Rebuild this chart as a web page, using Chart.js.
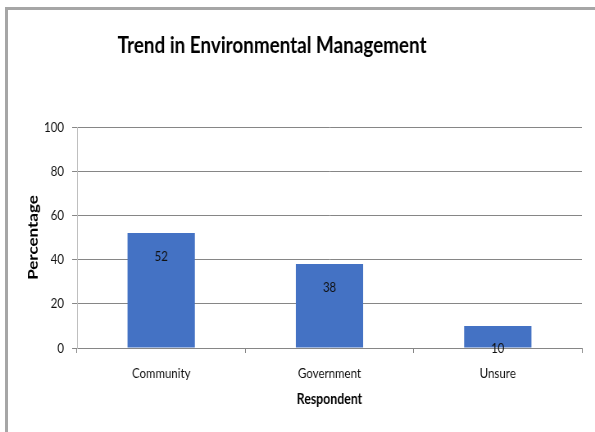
<!DOCTYPE html>
<html>
<head>
<meta charset="utf-8">
<script src="https://cdn.jsdelivr.net/npm/chart.js@4.4.1/dist/chart.umd.min.js"></script>
<style>
  html, body { margin: 0; padding: 0; background: #fff; }
  #wrap { position: relative; width: 595px; height: 432px; overflow: hidden; }
  #frame {
    position: absolute; left: 5px; top: 7px; width: 620px; height: 460px;
    border-left: 3px solid #a6a6a6; border-top: 3px solid #a6a6a6;
    box-sizing: border-box;
  }
  /* the chart is drawn wider and squeezed back to 595px, giving tall narrow lettering */
  #chart { position: absolute; left: 0; top: 0; transform-origin: 0 0; transform: scaleX(0.8196); }
</style>
</head>
<body>
<div id="wrap">
  <div id="frame"></div>
  <canvas id="chart" width="726" height="432"></canvas>
</div>
<script>
// Respondent categories and percentages
const respondents = ['Community', 'Government', 'Unsure'];
const percentages = [52, 38, 10];
const yTicks = [0, 20, 40, 60, 80, 100];

const chartTitle = 'Trend in Environmental Management';
const fontFamily = 'Lato, "Open Sans", sans-serif';

// Chart heading, centred over the left part of the frame
const heading = {
    id: 'heading',
    afterDraw(chart) {
        const ctx = chart.ctx;
        ctx.save();
        ctx.font = 'bold 23px ' + fontFamily;
        ctx.fillStyle = '#000';
        ctx.textAlign = 'center';
        ctx.textBaseline = 'middle';
        ctx.fillText(chartTitle, 332, 46);
        ctx.restore();
    }
};

// Value labels drawn just inside the top of each bar
const barLabels = {
    id: 'barLabels',
    afterDatasetsDraw(chart) {
        const ctx = chart.ctx;
        const meta = chart.getDatasetMeta(0);
        ctx.save();
        ctx.font = '14px ' + fontFamily;
        ctx.fillStyle = '#111';
        ctx.textAlign = 'center';
        ctx.textBaseline = 'middle';
        meta.data.forEach((bar, i) => {
            ctx.fillText(String(percentages[i]), bar.x, bar.y + 23);
        });
        ctx.restore();
    }
};

new Chart(document.getElementById('chart'), {
    type: 'bar',
    data: {
        labels: respondents,
        datasets: [{
            data: percentages,
            backgroundColor: '#4472c4',
            borderWidth: 0,
            barPercentage: 0.4,
            categoryPercentage: 1
        }]
    },
    options: {
        responsive: false,
        animation: false,
        layout: { padding: { left: 0, right: 16, top: 127, bottom: 0 } },
        plugins: {
            legend: { display: false },
            tooltip: { enabled: false },
            title: { display: false }
        },
        scales: {
            x: {
                grid: { drawOnChartArea: false, drawTicks: true, tickLength: 5, color: '#868686', offset: true },
                border: { color: '#868686' },
                ticks: { color: '#111', padding: 12, font: { family: fontFamily, size: 14 } },
                title: {
                    display: true,
                    text: 'Respondent',
                    color: '#000',
                    font: { family: fontFamily, size: 15, weight: 'bold', lineHeight: 1.2 },
                    padding: { top: 0, bottom: 24 }
                },
                afterFit(scale) { scale.height = 84; }
            },
            y: {
                min: 0,
                max: 100,
                afterBuildTicks(scale) { scale.ticks = yTicks.map(v => ({ value: v })); },
                grid: { color: '#868686', tickLength: 6 },
                border: { color: '#bfbfbf' },
                ticks: { color: '#111', padding: 10, font: { family: fontFamily, size: 14 } },
                title: {
                    display: true,
                    text: 'Percentage',
                    color: '#000',
                    font: { family: fontFamily, size: 17, weight: 'bold', lineHeight: 1.2 },
                    padding: { top: 30, bottom: 0 }
                },
                afterFit(scale) { scale.width = 94; }
            }
        }
    },
    plugins: [barLabels, heading]
});
</script>
</body>
</html>
